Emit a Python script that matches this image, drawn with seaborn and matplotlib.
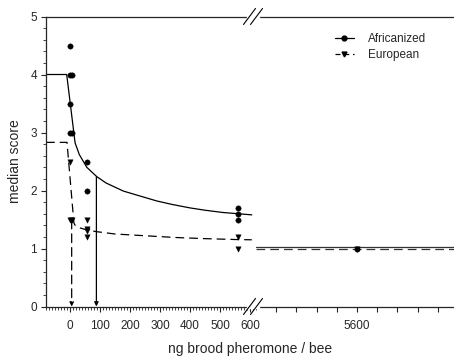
import numpy as np
import pandas as pd
import matplotlib
matplotlib.use("Agg")
import matplotlib.pyplot as plt
from matplotlib.lines import Line2D
import seaborn as sns

# ---------------- data ----------------
afr_x = [0, 0, 0, 0, 5.6, 5.6, 56, 56, 560, 560, 560, 5600]
afr_y = [4.5, 4.0, 3.5, 3.0, 4.0, 3.0, 2.5, 2.0, 1.7, 1.6, 1.5, 1.0]

eur_x = [0, 0, 5.6, 56, 56, 56, 56, 560, 560, 5600]
eur_y = [2.5, 1.5, 1.5, 1.5, 1.33, 1.3, 1.2, 1.2, 1.0, 1.0]

afr_fit_x = [-80, -11, 17, 31, 56, 89, 120, 178, 230, 289, 340, 400, 450, 511, 560, 606]
afr_fit_y = [4.0, 4.0, 2.82, 2.62, 2.40, 2.24, 2.13, 1.99, 1.91, 1.82, 1.76, 1.70, 1.66, 1.62, 1.60, 1.58]

eur_fit_x = [-80, -10, 13, 17, 30, 56, 89, 150, 250, 350, 450, 550, 606]
eur_fit_y = [2.83, 2.83, 1.44, 1.40, 1.36, 1.32, 1.29, 1.25, 1.22, 1.19, 1.17, 1.155, 1.15]

hi_fit_x = [600, 10400]
afr_hi_y = [1.02, 1.02]
eur_hi_y = [0.99, 0.99]

# response thresholds marked with arrows (x, top of the arrow)
afr_mark = (88, 2.24)
eur_mark = (5.6, 1.49)

left_ticks = [0, 100, 200, 300, 400, 500, 600]
right_ticks = [1600, 2600, 3600, 4600, 5600, 6600, 7600, 8600, 9600]
right_labels = ["", "", "", "", "5600", "", "", "", ""]

# ---------------- style ----------------
sns.set_style("ticks")
plt.rcParams['font.family'] = ['Liberation Sans', 'DejaVu Sans']
plt.rcParams['axes.linewidth'] = 0.9

W, H = 454, 358
fig = plt.figure(figsize=(W / 100, H / 100), dpi=100)

x0, xb, x1 = 46, 256, 454
ytop, ybot = 16.5, 306.5
axL = fig.add_axes([x0 / W, 1 - ybot / H, (xb - x0) / W, (ybot - ytop) / H])
axR = fig.add_axes([xb / W, 1 - ybot / H, (x1 - xb) / W, (ybot - ytop) / H])

afr = pd.DataFrame({"x": afr_x, "y": afr_y})
eur = pd.DataFrame({"x": eur_x, "y": eur_y})
afr_fit = pd.DataFrame({"x": afr_fit_x, "y": afr_fit_y})
eur_fit = pd.DataFrame({"x": eur_fit_x, "y": eur_fit_y})

XBREAK = 600
panels = [(axL, lambda d: d[d.x < XBREAK]), (axR, lambda d: d[d.x >= XBREAK])]

# fitted curves, low range
sns.lineplot(data=afr_fit, x="x", y="y", ax=axL, color="black", lw=0.9,
             estimator=None, sort=False)
l = sns.lineplot(data=eur_fit, x="x", y="y", ax=axL, color="black", lw=0.9,
                 estimator=None, sort=False)
l.lines[-1].set_dashes((7, 4))

# fitted lines, high range
sns.lineplot(x=hi_fit_x, y=afr_hi_y, ax=axR, color="#333333", lw=0.9,
             estimator=None, sort=False)
l2 = sns.lineplot(x=hi_fit_x, y=eur_hi_y, ax=axR, color="#333333", lw=0.9,
                  estimator=None, sort=False)
l2.lines[-1].set_dashes((7, 4))

for ax, sel in panels:
    sns.scatterplot(data=sel(afr), x="x", y="y", ax=ax, color="black", marker="o",
                    s=15, edgecolor="black", linewidth=0.3, zorder=5)
    sns.scatterplot(data=sel(eur), x="x", y="y", ax=ax, color="black", marker="v",
                    s=15, edgecolor="black", linewidth=0.3, zorder=5)

# arrows
axL.annotate("", xy=(afr_mark[0], 0), xytext=afr_mark,
             arrowprops=dict(arrowstyle="-|>", color="black", lw=0.9,
                             mutation_scale=6, shrinkA=0, shrinkB=0))
axL.annotate("", xy=(eur_mark[0], 0), xytext=eur_mark,
             arrowprops=dict(arrowstyle="-|>", color="black", lw=0.9,
                             linestyle=(0, (7, 4)),
                             mutation_scale=6, shrinkA=0, shrinkB=0))

# axes limits and ticks
axL.set_xlim(-80, 620)
axR.set_xlim(600, 10400)
for ax in (axL, axR):
    ax.set_ylim(0, 5)
    ax.set_xlabel("")
    ax.set_ylabel("")

axL.set_xticks(left_ticks)
axL.set_xticklabels([str(t) for t in left_ticks])
axL.set_xticks(np.arange(-80, 621, 10), minor=True)
axL.set_yticks([0, 1, 2, 3, 4, 5])
axL.set_yticks(np.arange(0, 5.01, 0.2), minor=True)
axL.tick_params(axis="both", which="major", labelsize=8.5, length=3.5, width=0.8,
                direction="out")
axL.tick_params(axis="x", which="major", pad=6)
axL.tick_params(axis="y", which="major", pad=3)
axL.tick_params(axis="both", which="minor", length=2.5, width=0.6, direction="out")
axL.spines["right"].set_visible(False)

axR.set_xticks(right_ticks)
axR.set_xticklabels(right_labels)
axR.tick_params(axis="x", which="major", labelsize=8.5, length=3.5, width=0.8,
                direction="out", pad=6)
axR.set_yticks([])
axR.spines["left"].set_visible(False)
axR.spines["right"].set_visible(False)

# break marks
def fx(px):
    return px / W

def fy(py):
    return 1 - py / H

cx = 253
for yy in (ytop, ybot):
    fig.add_artist(Line2D([fx(cx - 5), fx(cx + 5)], [fy(yy), fy(yy)],
                          color="white", lw=2.5, zorder=10))
    for d in (-3.5, 3.5):
        fig.add_artist(Line2D([fx(cx + d - 6), fx(cx + d + 6)],
                              [fy(yy + 8), fy(yy - 8)],
                              color="black", lw=0.8, zorder=11))

# labels
fig.text(fx(250), fy(349), "ng brood pheromone / bee", ha="center", va="center",
         fontsize=10)
fig.text(fx(15), fy(161.5), "median score", ha="center", va="center",
         rotation=90, fontsize=10)

# legend
handles = [
    Line2D([], [], color="black", lw=0.9, marker="o", markersize=3.5),
    Line2D([], [], color="black", lw=0.9, marker="v", markersize=3.5,
           dashes=(4, 3)),
]
fig.legend(handles, ["Africanized", "European"], loc="upper left",
           bbox_to_anchor=(fx(335), fy(33)), frameon=False, fontsize=8.5,
           handlelength=1.6, handletextpad=1.2, labelspacing=0.35,
           borderpad=0, borderaxespad=0)

fig.savefig("out.png", dpi=100)
